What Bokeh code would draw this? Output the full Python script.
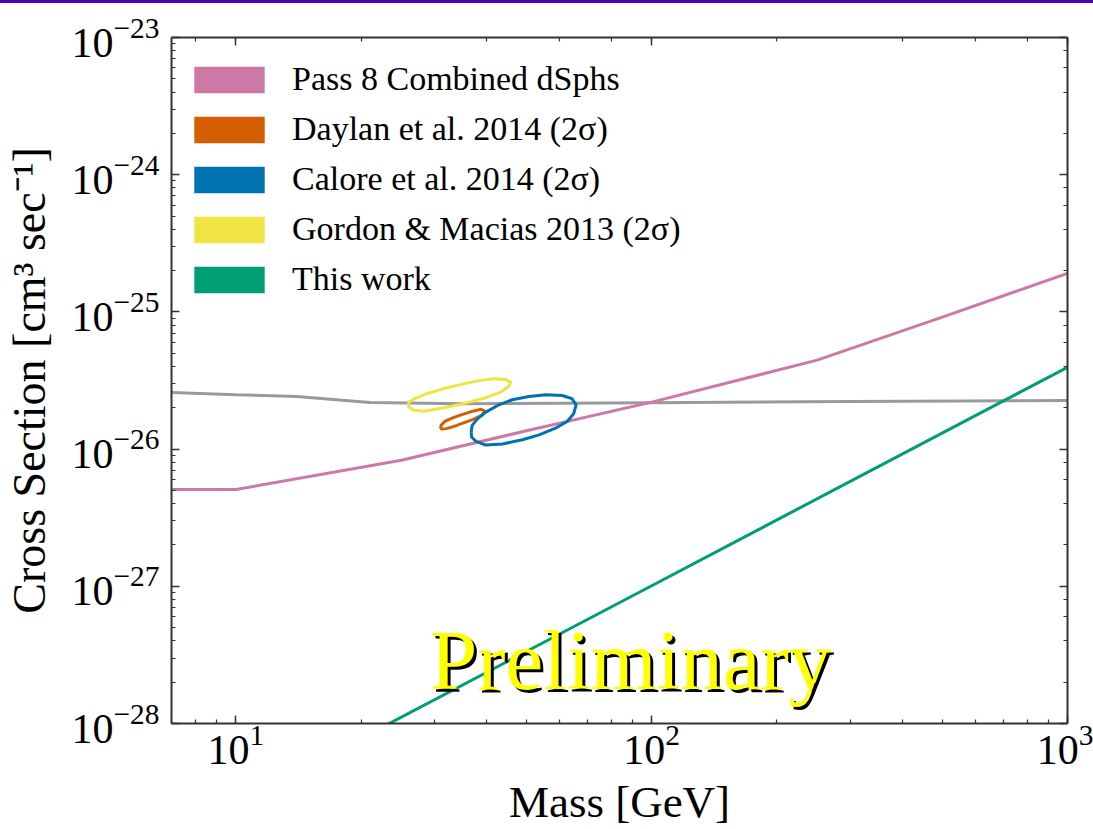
from bokeh.plotting import figure
from bokeh.models import (LogAxis, Legend, LegendItem, Label, Div,
                          CustomJSTickFormatter)
from bokeh.layouts import column
from bokeh.embed import file_html
from bokeh.resources import INLINE

FONT = "Liberation Serif"
AXIS_COLOR = "#333333"

# Pass 8 combined dwarf spheroidal limit
dsph_mass = [7, 10, 25, 50, 100, 250, 500, 1000]
dsph_xsec = [5.08e-27, 5.08e-27, 8.3e-27, 1.36e-26, 2.20e-26, 4.45e-26, 9.16e-26, 1.91e-25]

# thermal relic cross section
relic_mass = [7, 10, 14, 21, 35, 60, 100, 300, 1000]
relic_xsec = [2.59e-26, 2.49e-26, 2.42e-26, 2.19e-26, 2.14e-26, 2.16e-26, 2.18e-26, 2.22e-26, 2.26e-26]

# this work
work_mass = [20, 100, 1000]
work_xsec = [7.8e-29, 1.01e-27, 3.95e-26]

# 2-sigma contours of Galactic Center excess fits
gordon_mass = [25.9, 26.1, 26.9, 28.7, 31.5, 34.5, 37.8, 41.4, 44.6, 45.8, 45.4, 43.4,
               39.9, 36.4, 33.2, 30.3, 28.2, 26.7]
gordon_xsec = [2.06e-26, 2.20e-26, 2.33e-26, 2.53e-26, 2.75e-26, 2.94e-26, 3.13e-26,
               3.25e-26, 3.21e-26, 3.08e-26, 2.88e-26, 2.60e-26, 2.37e-26, 2.20e-26,
               2.06e-26, 1.95e-26, 1.89e-26, 1.93e-26]

daylan_mass = [31.0, 31.8, 33.2, 35.1, 37.1, 38.9, 39.6, 39.2, 37.5, 35.4, 33.6, 32.1, 31.2]
daylan_xsec = [1.47e-26, 1.59e-26, 1.69e-26, 1.79e-26, 1.89e-26, 1.95e-26, 1.90e-26,
               1.78e-26, 1.66e-26, 1.56e-26, 1.47e-26, 1.41e-26, 1.40e-26]

calore_mass = [36.8, 37.0, 38.1, 39.9, 42.6, 46.2, 50.7, 55.6, 60.9, 64.3, 65.8, 64.9,
               62.6, 58.7, 53.6, 48.9, 43.8, 39.9, 37.8, 36.9]
calore_xsec = [1.33e-26, 1.49e-26, 1.66e-26, 1.86e-26, 2.08e-26, 2.29e-26, 2.42e-26,
               2.49e-26, 2.46e-26, 2.33e-26, 2.10e-26, 1.81e-26, 1.59e-26, 1.42e-26,
               1.27e-26, 1.17e-26, 1.09e-26, 1.07e-26, 1.14e-26, 1.22e-26]

legend_labels = ["Pass 8 Combined dSphs", "Daylan et al. 2014 (2σ)",
                 "Calore et al. 2014 (2σ)", "Gordon & Macias 2013 (2σ)", "This work"]

PINK, ORANGE, BLUE, YELLOW, GREEN, GRAY = ("#CC79A7", "#D55E00", "#0072B2",
                                          "#F0E442", "#009E73", "#9A9A9A")
legend_colors = [PINK, ORANGE, BLUE, YELLOW, GREEN]

p = figure(width=1093, height=826, x_axis_type="log", y_axis_type="log",
           x_range=(7, 1000), y_range=(1e-28, 1e-23),
           output_backend="svg", toolbar_location=None,
           min_border_left=165, min_border_right=26,
           min_border_top=34, min_border_bottom=106)
p.grid.visible = False
p.outline_line_color = None
p.background_fill_color = "white"
p.border_fill_color = "white"

LW = 3
p.line(relic_mass, relic_xsec, line_color=GRAY, line_width=LW)
p.line(dsph_mass, dsph_xsec, line_color=PINK, line_width=LW)
p.line(work_mass, work_xsec, line_color=GREEN, line_width=LW)


def closed(seq):
    return list(seq) + [seq[0]]


for m, s, c in [(gordon_mass, gordon_xsec, YELLOW),
                (daylan_mass, daylan_xsec, ORANGE),
                (calore_mass, calore_xsec, BLUE)]:
    p.line(closed(m), closed(s), line_color=c, line_width=LW, line_join="round")


def style_axis(ax):
    ax.axis_line_color = AXIS_COLOR
    ax.axis_line_width = 2
    ax.major_tick_line_color = AXIS_COLOR
    ax.major_tick_line_width = 1.5
    ax.minor_tick_line_color = AXIS_COLOR
    ax.minor_tick_line_width = 1.2
    ax.major_tick_in = 8
    ax.major_tick_out = 0
    ax.minor_tick_in = 4
    ax.minor_tick_out = 0
    ax.major_label_text_font = FONT
    ax.major_label_text_font_size = "42px"
    ax.major_label_text_color = "black"
    ax.axis_label_text_font = FONT
    ax.axis_label_text_font_style = "normal"
    ax.axis_label_text_font_size = "45px"
    ax.axis_label_text_color = "black"


xa = p.xaxis[0]
ya = p.yaxis[0]
style_axis(xa)
style_axis(ya)
xa.axis_label = "Mass [GeV]"
ya.axis_label = "Cross Section [cm³ sec⁻¹]"
ya.axis_label_text_font_size = "46px"
xa.major_label_standoff = 2
xa.axis_label_standoff = 10
ya.major_label_standoff = 12
ya.axis_label_standoff = 14

# mirrored tick marks on the top and right edges, without labels
for side in ("above", "right"):
    ax = LogAxis(formatter=CustomJSTickFormatter(code="return ''"))
    style_axis(ax)
    ax.major_label_standoff = 0
    ax.major_label_text_font_size = "0px"
    p.add_layout(ax, side)

# legend swatches drawn as filled boxes (no visible marks in the plot area)
nan = float("nan")
items = []
for label, color in zip(legend_labels, legend_colors):
    r = p.quad(left=[nan], right=[nan], top=[nan], bottom=[nan],
               fill_color=color, line_color=None)
    items.append(LegendItem(label=label, renderers=[r]))

legend = Legend(items=items, location="top_left", margin=14, padding=10,
                glyph_width=88, glyph_height=33, label_height=33,
                label_standoff=19, spacing=12,
                title=" ", title_text_font_size="1px", title_standoff=8,
                label_text_font=FONT, label_text_font_size="34px",
                label_text_color="black",
                border_line_color=None, background_fill_alpha=0)
p.add_layout(legend)

for dx, dy, col in [(3, -3, "black"), (0, 0, "#FFFF00")]:
    p.add_layout(Label(x=89, y=2.88e-28, x_offset=dx, y_offset=dy, text="Preliminary",
                       text_font=FONT, text_font_size="85px", text_color=col,
                       text_align="center", text_baseline="alphabetic"))

bar = Div(width=1093, height=3, margin=0,
          styles={"background-color": "#4F00B5", "margin": "0"})
layout = column(bar, p, spacing=0, margin=0)

open("out.html", "w").write(file_html(layout, INLINE))
